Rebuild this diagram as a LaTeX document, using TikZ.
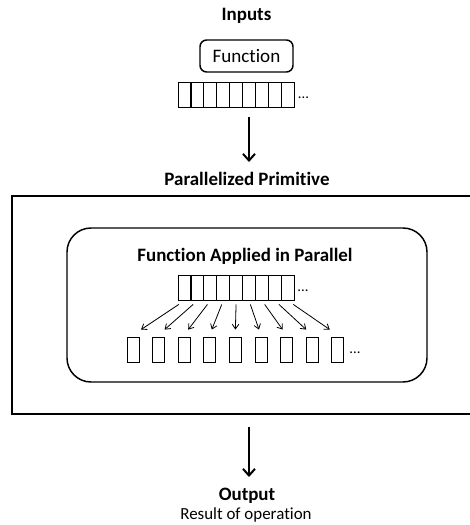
\documentclass[tikz,border=0pt]{standalone}
\usepackage{fontspec}
\setmainfont{Carlito}[Ligatures=NoCommon]
\usetikzlibrary{arrows.meta}

\tikzset{
    cell/.style={draw, line width=0.6pt, minimum width=9.7pt, minimum height=18.75pt, inner sep=0pt},
    lonecell/.style={cell, minimum width=9pt},
    bigarrow/.style={-{Straight Barb[length=5pt, width=9pt]}, line width=1.5pt},
    smallarrow/.style={-{Straight Barb[length=3.5pt, width=5pt]}, line width=0.6pt},
    head/.style={font=\bfseries\fontsize{14.2}{17}\selectfont, anchor=base, inner sep=0pt},
    plain/.style={font=\fontsize{12.7}{15}\selectfont, anchor=base, inner sep=0pt},
    dots/.style={font=\fontsize{11}{13}\selectfont, anchor=base, inner sep=0pt}
}

\begin{document}
\begin{tikzpicture}[x=0.75pt, y=-0.75pt]
            \useasboundingbox (0,0) rectangle (470,525);

            \node[head] (inlab) at (246.5, 20) {Inputs};
            \node[draw, line width=1.1pt, rounded corners=5pt, minimum width=69.75pt,
                  minimum height=24pt, font=\fontsize{14.3}{16}\selectfont] (fun) at (246.5, 56) {Function};

            \node[head] (prim) at (247, 185) {Parallelized Primitive};
            \node[head] (applab) at (245, 261) {Function Applied in Parallel};
            \node[head] (outlab) at (247, 500) {Output};
            \node[plain] (result) at (246, 519) {Result of operation};

            % outer box, open at the right
            \draw[line width=1.5pt] (470, 196) -| (12, 414) -- (470, 414);
            \node[draw, line width=1.1pt, rounded corners=18pt, minimum width=270pt,
                  minimum height=115.5pt] (apply) at (247, 305) {};

            \foreach \i in {1,...,9}{
                \node[cell] (in\i) at ({178+12.9*(\i-0.5)}, 94.5) {};
                \node[cell] (mid\i) at ({178+12.9*(\i-0.5)}, 287.5) {};
                \node[lonecell] (out\i) at ({133+25.6*(\i-1)}, 349.5) {};

                \draw[smallarrow] ([xshift={(\i-5)*1.05pt}, yshift=-3pt]mid\i.south)
                    to ([xshift={(5-\i)*1.5pt}, yshift=5.25pt]out\i.north);
            }

            \node[dots] (indots) at (303.5, 98.5) {...};
            \node[dots] (middots) at (303, 291.5) {...};
            \node[dots] (outdots) at (355, 353.5) {...};

            \coordinate (topfrom) at (249, 117);
            \coordinate (topto) at (249, 162);
            \coordinate (botfrom) at (249, 427);
            \coordinate (botto) at (249, 477);

            \draw[bigarrow] (topfrom) to (topto);
            \draw[bigarrow] (botfrom) to (botto);
\end{tikzpicture}
\end{document}
